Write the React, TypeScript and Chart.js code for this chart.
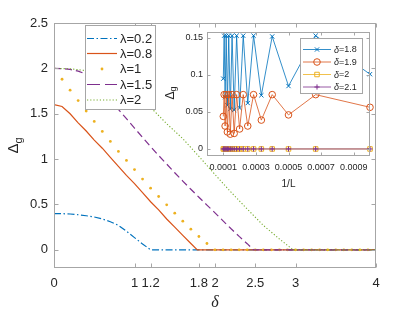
import React, { useEffect, useRef } from 'react';
import { Chart, registerables } from 'chart.js';
Chart.register(...registerables);

const FONT = '"Liberation Sans", Arial, Helvetica, sans-serif';
const SERIF = '"Liberation Serif", "DejaVu Serif", serif';
const AXIS_GRAY = '#a6a6a6';
const TEXT = '#262626';
const BLUE = '#0072BD';
const ORANGE = '#D95319';
const YELLOW = '#EDB120';
const PURPLE = '#7E2F8E';
const GREEN = '#77AC30';

// ---------- main chart data ----------
const X_TICKS = [0, 1, 1.2, 1.8, 2, 2.5, 3, 4];
const Y_TICKS = [0, 0.5, 1, 1.5, 2, 2.5];
const LAMBDA_LABELS = ['λ=0.2', 'λ=0.8', 'λ=1', 'λ=1.5', 'λ=2'];

const L02_X = [0, 0.1, 0.2, 0.3, 0.4, 0.5, 0.6, 0.7, 0.8, 0.9, 1.0, 1.1, 1.2, 4];
const L02_Y = [0.4, 0.399, 0.395, 0.387, 0.376, 0.362, 0.34, 0.31, 0.27, 0.205, 0.135, 0.065, 0, 0];

const L08_X = [0, 0.1, 0.2, 0.3, 0.4, 0.5, 0.6, 0.7, 0.8, 0.9, 1.0, 1.1, 1.2, 1.3, 1.4, 1.5, 1.6, 1.7, 1.78, 4];
const L08_Y = [1.6, 1.58, 1.5, 1.4, 1.31, 1.21, 1.12, 1.02, 0.92, 0.82, 0.73, 0.63, 0.53, 0.44, 0.34, 0.25, 0.16, 0.07, 0, 0];

const DELTA_GRID = [0, 0.1, 0.2, 0.3, 0.4, 0.5, 0.6, 0.7, 0.8, 0.9, 1.0, 1.1, 1.2, 1.3, 1.4, 1.5, 1.6, 1.7, 1.8, 1.9, 2.0,
  2.1, 2.2, 2.3, 2.4, 2.5, 2.6, 2.7, 2.8, 2.9, 3.0, 3.1, 3.2, 3.3, 3.4, 3.5, 3.6, 3.7, 3.8, 3.9, 4.0];
const L1_Y = [2.0, 1.88, 1.76, 1.645, 1.53, 1.415, 1.305, 1.195, 1.085, 0.985, 0.885, 0.78, 0.68, 0.588, 0.496, 0.404, 0.316, 0.228, 0.147, 0.07, 0,
  0, 0, 0, 0, 0, 0, 0, 0, 0, 0, 0, 0, 0, 0, 0, 0, 0, 0, 0, 0];

const L15_X = [0, 0.1, 0.2, 0.3, 0.4, 0.5, 0.6, 0.7, 0.8, 0.9, 1.0, 1.1, 1.2, 1.3, 1.4, 1.5, 1.6, 1.7, 1.8, 1.9, 2.0, 2.1, 2.2, 2.3, 2.4, 2.48, 4];
const L15_Y = [2.0, 1.997, 1.988, 1.97, 1.935, 1.86, 1.76, 1.655, 1.548, 1.445, 1.342, 1.24, 1.138, 1.04, 0.945, 0.85, 0.758, 0.668, 0.58, 0.493, 0.408, 0.32, 0.232, 0.148, 0.068, 0, 0];

const L2_X = [0, 0.2, 0.4, 0.6, 0.8, 1.0, 1.2, 1.4, 1.6, 1.8, 2.0, 2.2, 2.4, 2.6, 2.8, 2.97, 4];
const L2_Y = [2.0, 1.995, 1.975, 1.935, 1.85, 1.73, 1.57, 1.39, 1.225, 1.03, 0.83, 0.635, 0.45, 0.27, 0.12, 0, 0];

// ---------- inset data ----------
const L_SIZES = [1000, 1500, 2000, 2500, 3000, 3500, 4000, 4500, 5000, 5500, 6000, 6500, 7000, 7500, 8000, 8500, 9000, 9500, 10000];
const INSET_X_TICKS = [0.0001, 0.0003, 0.0005, 0.0007, 0.0009];
const INSET_Y_TICKS = [0, 0.05, 0.1, 0.15];
const DELTA_LABELS = ['1.8', '1.9', '2', '2.1'];
const D18 = [0.101, 0.153, 0.085, 0.152, 0.0725, 0.153, 0.062, 0.153, 0.0554, 0.153, 0.0527, 0.153, 0.054, 0.153, 0.059, 0.153, 0.07, 0.153, 0.095];
const D19 = [0.0563, 0.0734, 0.046, 0.0734, 0.039, 0.0734, 0.031, 0.0734, 0.027, 0.0734, 0.021, 0.0734, 0.02, 0.0734, 0.023, 0.0734, 0.031, 0.0734, 0.044];
const D20 = [0, 0, 0, 0, 0, 0, 0, 0, 0, 0, 0, 0, 0, 0, 0, 0, 0, 0, 0];
const D21 = [0, 0, 0, 0, 0, 0, 0, 0, 0, 0, 0, 0, 0, 0, 0, 0, 0, 0, 0];

const pts = (xs: number[], ys: number[]) => xs.map((x, i) => ({ x, y: ys[i] }));
const invPts = (ls: number[], ys: number[]) => ls.map((l, i) => ({ x: 1 / l, y: ys[i] }));

function drawFrame(chart: any, tickLen: number) {
  const { ctx, chartArea: a, scales } = chart;
  const x = scales.x, y = scales.y;
  ctx.save();
  ctx.strokeStyle = AXIS_GRAY;
  ctx.lineWidth = 1;
  ctx.setLineDash([]);
  const L = Math.round(a.left) + 0.5, R = Math.round(a.right) - 0.5;
  const T = Math.round(a.top) + 0.5, B = Math.round(a.bottom) - 0.5;
  ctx.strokeRect(L, T, R - L, B - T);
  ctx.beginPath();
  x.ticks.forEach((t: any) => {
    const px = Math.round(x.getPixelForValue(t.value)) + 0.5;
    ctx.moveTo(px, B); ctx.lineTo(px, B - tickLen);
    ctx.moveTo(px, T); ctx.lineTo(px, T + tickLen);
  });
  y.ticks.forEach((t: any) => {
    const py = Math.round(y.getPixelForValue(t.value)) + 0.5;
    ctx.moveTo(L, py); ctx.lineTo(L + tickLen, py);
    ctx.moveTo(R, py); ctx.lineTo(R - tickLen, py);
  });
  ctx.stroke();
  ctx.restore();
}

function drawSubTitle(ctx: CanvasRenderingContext2D, cx: number, cy: number, big: number, small: number) {
  ctx.save();
  ctx.translate(cx, cy);
  ctx.rotate(-Math.PI / 2);
  ctx.fillStyle = TEXT;
  ctx.textBaseline = 'alphabetic';
  ctx.textAlign = 'left';
  ctx.font = `${big}px ${FONT}`;
  const wD = ctx.measureText('Δ').width;
  ctx.font = `${small}px ${FONT}`;
  const wg = ctx.measureText('g').width;
  const start = -(wD + wg) / 2;
  const base = big * 0.36;
  ctx.font = `${big}px ${FONT}`;
  ctx.fillText('Δ', start, base);
  ctx.font = `${small}px ${FONT}`;
  ctx.fillText('g', start + wD, base + big * 0.22);
  ctx.restore();
}

function drawMarker(ctx: CanvasRenderingContext2D, style: string, r: number, x: number, y: number) {
  ctx.beginPath();
  if (style === 'circle') {
    ctx.arc(x, y, r, 0, Math.PI * 2);
  } else if (style === 'rect') {
    const s = r * Math.SQRT1_2;
    ctx.rect(x - s, y - s, 2 * s, 2 * s);
  } else if (style === 'cross') {
    ctx.moveTo(x - r, y); ctx.lineTo(x + r, y);
    ctx.moveTo(x, y - r); ctx.lineTo(x, y + r);
  } else if (style === 'crossRot') {
    const s = r * Math.SQRT1_2;
    ctx.moveTo(x - s, y - s); ctx.lineTo(x + s, y + s);
    ctx.moveTo(x - s, y + s); ctx.lineTo(x + s, y - s);
  }
  ctx.stroke();
}

const mainDecor = {
  id: 'mainDecor',
  afterDraw(chart: any) {
    const { ctx, chartArea: a } = chart;
    drawFrame(chart, 4);
    drawSubTitle(ctx, 13, (a.top + a.bottom) / 2, 15, 11);
    const bx = Math.round(a.left) + 31, by = Math.round(a.top) + 2, bw = 70, bh = 84;
    ctx.save();
    ctx.fillStyle = '#ffffff';
    ctx.fillRect(bx, by, bw, bh);
    ctx.strokeStyle = AXIS_GRAY;
    ctx.lineWidth = 1;
    ctx.strokeRect(bx + 0.5, by + 0.5, bw, bh);
    const ds = chart.data.datasets;
    const rowY = [13.5, 28.5, 44, 59.5, 75];
    LAMBDA_LABELS.forEach((lab, i) => {
      const d = ds[i];
      const yy = by + rowY[i];
      if (d.showLine === false) {
        ctx.fillStyle = d.pointBackgroundColor;
        ctx.beginPath();
        ctx.arc(bx + 17, yy, 1.4, 0, Math.PI * 2);
        ctx.fill();
      } else {
        ctx.strokeStyle = d.borderColor;
        ctx.lineWidth = d.borderWidth;
        ctx.setLineDash(d.legendDash || d.borderDash || []);
        ctx.beginPath();
        ctx.moveTo(bx + 2, yy);
        ctx.lineTo(bx + 32, yy);
        ctx.stroke();
        ctx.setLineDash([]);
      }
      ctx.fillStyle = TEXT;
      ctx.font = `13px ${FONT}`;
      ctx.textBaseline = 'middle';
      ctx.textAlign = 'left';
      ctx.fillText(lab, bx + 35, yy + 0.5);
    });
    ctx.restore();
  },
};

const insetDecor = {
  id: 'insetDecor',
  beforeDraw(chart: any) {
    const { ctx, chartArea: a } = chart;
    ctx.save();
    ctx.fillStyle = '#ffffff';
    ctx.fillRect(a.left, a.top, a.right - a.left, a.bottom - a.top);
    ctx.restore();
  },
  afterDraw(chart: any) {
    const { ctx, chartArea: a } = chart;
    drawFrame(chart, 3);
    drawSubTitle(ctx, 19.5, (a.top + a.bottom) / 2 - 1, 12, 9);
    const bx = Math.round(a.left) + 93, by = Math.round(a.top) + 6, bw = 62, bh = 55;
    ctx.save();
    ctx.fillStyle = '#ffffff';
    ctx.fillRect(bx, by, bw, bh);
    ctx.strokeStyle = AXIS_GRAY;
    ctx.lineWidth = 1;
    ctx.strokeRect(bx + 0.5, by + 0.5, bw, bh);
    const ds = chart.data.datasets;
    const rowY = [11.5, 24, 36.5, 49];
    DELTA_LABELS.forEach((lab, i) => {
      const d = ds[i];
      const yy = by + rowY[i];
      ctx.strokeStyle = d.borderColor;
      ctx.lineWidth = d.borderWidth;
      ctx.beginPath();
      ctx.moveTo(bx + 3, yy);
      ctx.lineTo(bx + 31, yy);
      ctx.stroke();
      ctx.lineWidth = d.pointBorderWidth;
      drawMarker(ctx, d.pointStyle, d.pointRadius, bx + 17, yy);
      ctx.fillStyle = TEXT;
      ctx.textBaseline = 'middle';
      ctx.textAlign = 'left';
      ctx.font = `italic 9px ${FONT}`;
      ctx.fillText('δ', bx + 34, yy + 0.5);
      const w = ctx.measureText('δ').width;
      ctx.font = `9px ${FONT}`;
      ctx.fillText('=' + lab, bx + 34 + w, yy + 0.5);
    });
    ctx.restore();
  },
};

export default function App() {
  const mainRef = useRef<HTMLCanvasElement>(null);
  const insetRef = useRef<HTMLCanvasElement>(null);

  useEffect(() => {
    document.body.style.margin = '0';
    const tickFont = { family: FONT, size: 13 };
    const main = new Chart(mainRef.current as HTMLCanvasElement, {
      type: 'line',
      data: {
        datasets: [
          { label: LAMBDA_LABELS[0], data: pts(L02_X, L02_Y), borderColor: BLUE, borderWidth: 1.2, borderDash: [7, 2.5, 1.5, 2.5], pointRadius: 0, order: 4 } as any,
          { label: LAMBDA_LABELS[1], data: pts(L08_X, L08_Y), borderColor: ORANGE, borderWidth: 1.2, pointRadius: 0, order: 3 },
          { label: LAMBDA_LABELS[2], data: pts(DELTA_GRID, L1_Y), showLine: false, borderColor: YELLOW, pointBackgroundColor: YELLOW, pointBorderWidth: 0, pointRadius: 1.4, order: 2 },
          { label: LAMBDA_LABELS[3], data: pts(L15_X, L15_Y), borderColor: PURPLE, borderWidth: 1.2, borderDash: [7, 4], legendDash: [13, 5], pointRadius: 0, order: 1 },
          { label: LAMBDA_LABELS[4], data: pts(L2_X, L2_Y), borderColor: GREEN, borderWidth: 1.1, borderDash: [1.2, 2], pointRadius: 0, order: 0 },
        ],
      },
      options: {
        animation: false,
        responsive: false,
        devicePixelRatio: 1,
        events: [],
        layout: { padding: { left: 0, right: 39, top: 23, bottom: 0 } },
        plugins: { legend: { display: false }, tooltip: { enabled: false } },
        scales: {
          x: {
            type: 'linear', min: 0, max: 4,
            afterBuildTicks: (s: any) => { s.ticks = X_TICKS.map((v) => ({ value: v })); },
            afterFit: (s: any) => { s.height = 44; },
            grid: { display: false, drawTicks: false },
            border: { display: false },
            ticks: { autoSkip: false, maxRotation: 0, padding: 8, color: TEXT, font: tickFont, callback: (v: any) => String(v) },
            title: { display: true, text: 'δ', color: TEXT, font: { family: SERIF, size: 16, style: 'italic' }, padding: { top: 0, bottom: 0 } },
          },
          y: {
            type: 'linear', min: -0.2, max: 2.5,
            afterBuildTicks: (s: any) => { s.ticks = Y_TICKS.map((v) => ({ value: v })); },
            afterFit: (s: any) => { s.width = 54; },
            grid: { display: false, drawTicks: false },
            border: { display: false },
            ticks: { autoSkip: false, padding: 6, color: TEXT, font: tickFont, callback: (v: any) => String(v) },
          },
        },
      },
      plugins: [mainDecor],
    });

    const inFont = { family: FONT, size: 9 };
    const inset = new Chart(insetRef.current as HTMLCanvasElement, {
      type: 'line',
      data: {
        datasets: [
          { label: 'δ=1.8', data: invPts(L_SIZES, D18), borderColor: BLUE, borderWidth: 0.8, pointStyle: 'crossRot', pointRadius: 3, pointBorderWidth: 1, pointBorderColor: BLUE, pointBackgroundColor: 'rgba(0,0,0,0)', order: 3, clip: false } as any,
          { label: 'δ=1.9', data: invPts(L_SIZES, D19), borderColor: ORANGE, borderWidth: 0.8, pointStyle: 'circle', pointRadius: 3.3, pointBorderWidth: 1, pointBorderColor: ORANGE, pointBackgroundColor: 'rgba(0,0,0,0)', order: 2, clip: false },
          { label: 'δ=2', data: invPts(L_SIZES, D20), borderColor: YELLOW, borderWidth: 0.8, pointStyle: 'rect', pointRadius: 3.2, pointBorderWidth: 1, pointBorderColor: YELLOW, pointBackgroundColor: 'rgba(0,0,0,0)', order: 1, clip: false },
          { label: 'δ=2.1', data: invPts(L_SIZES, D21), borderColor: PURPLE, borderWidth: 0.8, pointStyle: 'cross', pointRadius: 2.6, pointBorderWidth: 1, pointBorderColor: PURPLE, pointBackgroundColor: 'rgba(0,0,0,0)', order: 0, clip: false },
        ],
      },
      options: {
        animation: false,
        responsive: false,
        devicePixelRatio: 1,
        events: [],
        layout: { padding: { left: 0, right: 20, top: 12, bottom: 0 } },
        plugins: { legend: { display: false }, tooltip: { enabled: false } },
        scales: {
          x: {
            type: 'linear', min: 0, max: 0.001,
            afterBuildTicks: (s: any) => { s.ticks = INSET_X_TICKS.map((v) => ({ value: v })); },
            afterFit: (s: any) => { s.height = 44; },
            grid: { display: false, drawTicks: false },
            border: { display: false },
            ticks: { autoSkip: false, maxRotation: 0, padding: 6, color: TEXT, font: inFont, callback: (v: any) => Number(v).toFixed(4) },
            title: { display: true, text: '1/L', color: TEXT, font: { family: FONT, size: 10 }, padding: { top: 0, bottom: 10 } },
          },
          y: {
            type: 'linear', min: -0.0095, max: 0.158,
            afterBuildTicks: (s: any) => { s.ticks = INSET_Y_TICKS.map((v) => ({ value: v })); },
            afterFit: (s: any) => { s.width = 57; },
            grid: { display: false, drawTicks: false },
            border: { display: false },
            ticks: { autoSkip: false, padding: 4, color: TEXT, font: inFont, callback: (v: any) => String(v) },
          },
        },
      },
      plugins: [insetDecor],
    });

    return () => { main.destroy(); inset.destroy(); };
  }, []);

  return (
    <div style={{ position: 'absolute', left: 0, top: 0, width: 415, height: 312, background: '#ffffff' }}>
      <canvas ref={mainRef} width={415} height={312} style={{ position: 'absolute', left: 0, top: 0, width: 415, height: 312 }} />
      <canvas ref={insetRef} width={240} height={180} style={{ position: 'absolute', left: 150, top: 20, width: 240, height: 180 }} />
    </div>
  );
}
